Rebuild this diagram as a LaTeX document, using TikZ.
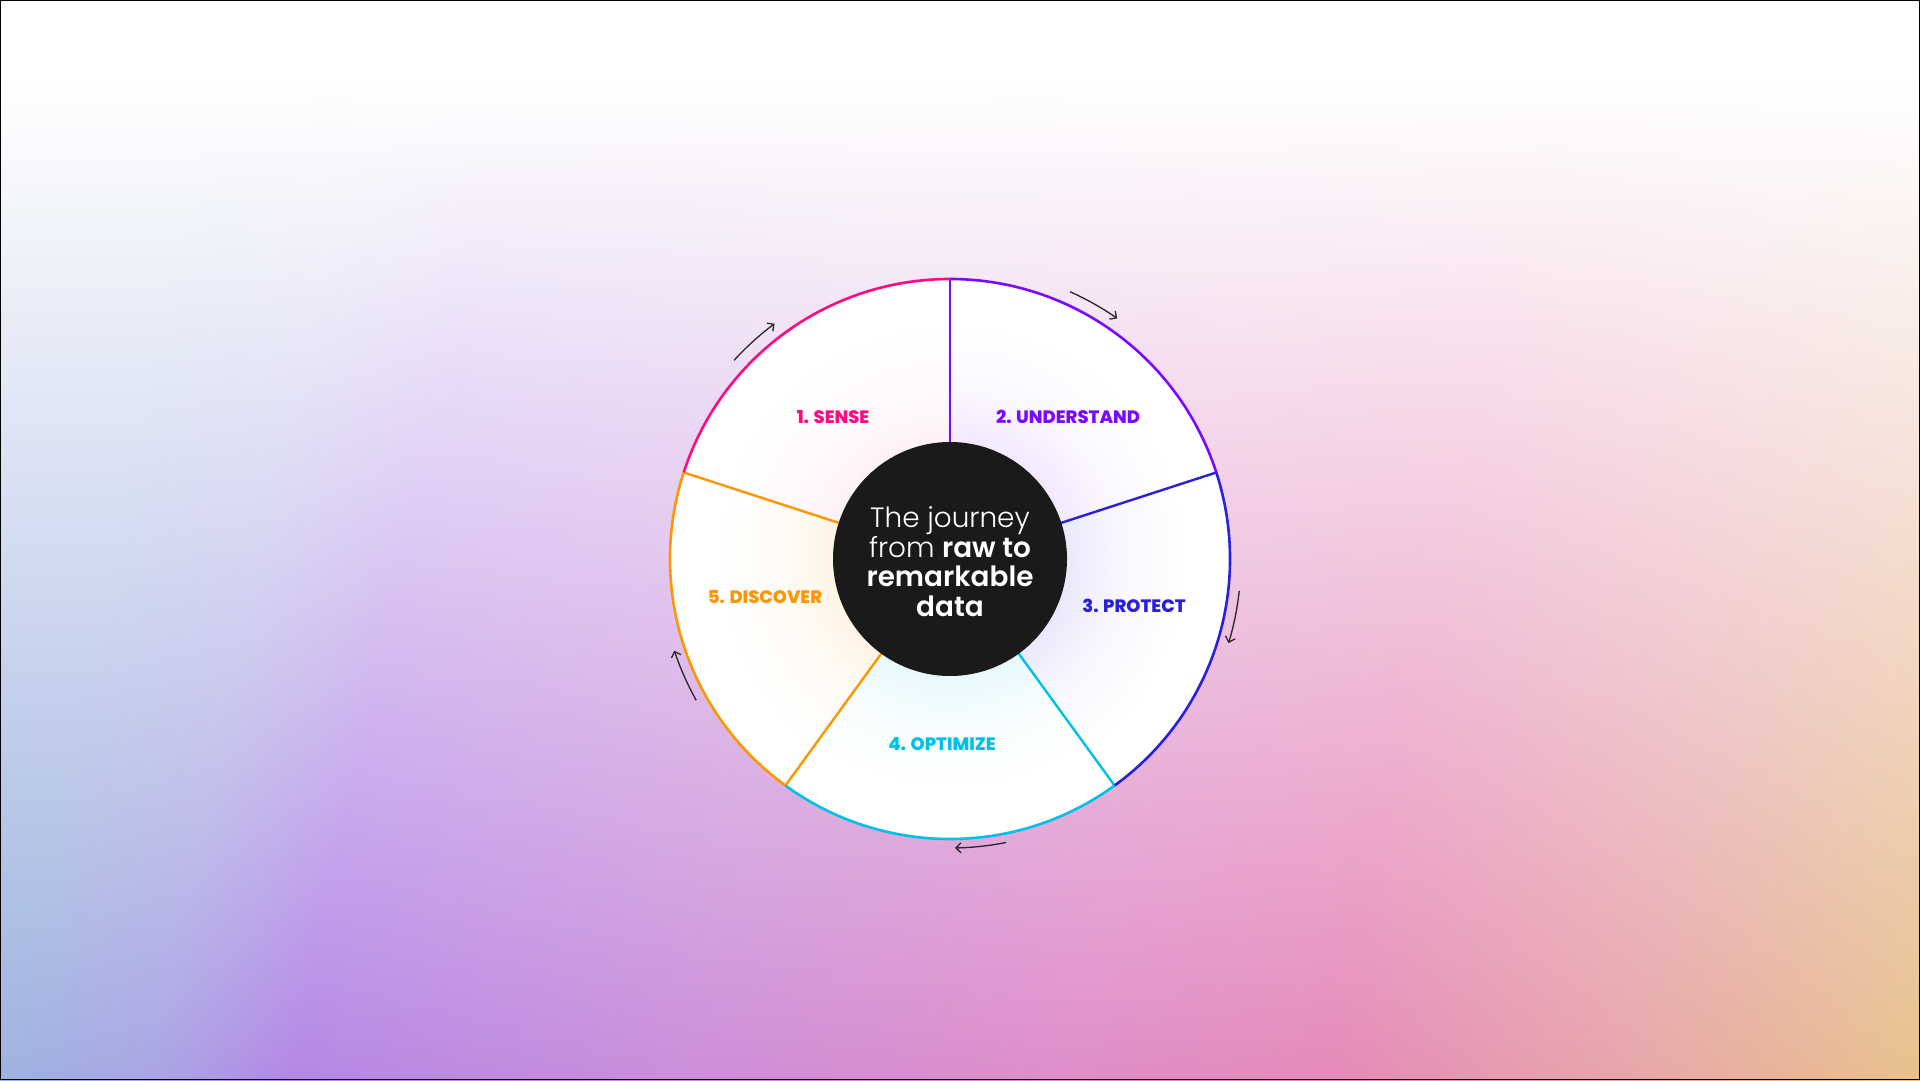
\documentclass[tikz,border=0pt]{standalone}
\usepackage{fontspec}
\setmainfont{Poppins}
\newfontfamily\popL{Poppins Light}
\newfontfamily\popSB{Poppins SemiBold}
\newfontfamily\popXB{Poppins ExtraBold}
\usetikzlibrary{arrows.meta}

\definecolor{csense}{HTML}{FF0A80}
\definecolor{cund}{HTML}{7A0AFF}
\definecolor{cprot}{HTML}{2B20DA}
\definecolor{copt}{HTML}{00C0E8}
\definecolor{cdisc}{HTML}{FF9500}
\definecolor{coreblack}{HTML}{1A1A1A}

\definecolor{bg0}{HTML}{9FB3E0}
\definecolor{bg1}{HTML}{AAA6E4}
\definecolor{bg2}{HTML}{B488E6}
\definecolor{bg3}{HTML}{CC8ED9}
\definecolor{bg4}{HTML}{DF8EC9}
\definecolor{bg5}{HTML}{E68AB9}
\definecolor{bg6}{HTML}{E7A6AA}
\definecolor{bg7}{HTML}{E8C28C}

\pgfdeclarehorizontalshading{bggrad}{1500bp}{color(0bp)=(bg0); color(273bp)=(bg0); color(420bp)=(bg1); color(557bp)=(bg2); color(938bp)=(bg3); color(1310bp)=(bg4); color(1574bp)=(bg5); color(1857bp)=(bg6); color(2151bp)=(bg7); color(2200bp)=(bg7)}

% soft glows around the core, one per sector
\colorlet{gA}{csense!6!white}\colorlet{gAb}{csense!2.5!white}
\colorlet{gB}{cund!9!white}\colorlet{gBb}{cund!3.5!white}
\colorlet{gC}{cprot!10!white}\colorlet{gCb}{cprot!4!white}
\colorlet{gD}{copt!9!white}\colorlet{gDb}{copt!3.5!white}
\colorlet{gE}{cdisc!10!white}\colorlet{gEb}{cdisc!4!white}
\pgfdeclareradialshading{glowA}{\pgfpoint{0bp}{0bp}}{color(0bp)=(gA); color(117bp)=(gA); color(165bp)=(gAb); color(235bp)=(white); color(240bp)=(white)}
\pgfdeclareradialshading{glowB}{\pgfpoint{0bp}{0bp}}{color(0bp)=(gB); color(117bp)=(gB); color(165bp)=(gBb); color(235bp)=(white); color(240bp)=(white)}
\pgfdeclareradialshading{glowC}{\pgfpoint{0bp}{0bp}}{color(0bp)=(gC); color(117bp)=(gC); color(165bp)=(gCb); color(235bp)=(white); color(240bp)=(white)}
\pgfdeclareradialshading{glowD}{\pgfpoint{0bp}{0bp}}{color(0bp)=(gD); color(117bp)=(gD); color(165bp)=(gDb); color(235bp)=(white); color(240bp)=(white)}
\pgfdeclareradialshading{glowE}{\pgfpoint{0bp}{0bp}}{color(0bp)=(gE); color(117bp)=(gE); color(165bp)=(gEb); color(235bp)=(white); color(240bp)=(white)}

\tikzset{
  rim/.style={line width=2.6bp},
  spoke/.style={line width=2.4bp},
  cyc/.style={line width=1.3bp, draw=black!85, -{Straight Barb[length=5bp,width=10bp]}},
  lbl/.style={font=\popXB\fontsize{18}{20}\selectfont, inner sep=0pt},
  coretxt/.style={text=white, align=center, font=\fontsize{28}{29.7}\selectfont, inner sep=0pt}
}

\begin{document}
\begin{tikzpicture}[x=1bp, y=1bp]
\useasboundingbox (0,0) rectangle (1920,1080);
% background: tilted colour band, whitened towards the top in disjoint bands
\begin{scope}
  \clip (0,0) rectangle (1920,1080);
  \node[inner sep=0pt, outer sep=0pt, rotate=-12] (bg) at (960,540) {\pgfuseshading{bggrad}};
  \fill[white] (0,1000) rectangle (1920,1081);
  \foreach \j in {1,...,200} {
    \pgfmathsetmacro{\aj}{1-(5*\j-2.5)/1000}
    \fill[white, fill opacity=\aj] (0,1000-5*\j) rectangle (1920,1005-5*\j);
  }
\end{scope}
\draw[line width=1.5bp] (0.75,0.75) rectangle (1919.25,1079.25);

\coordinate (C) at (950,521);

% sectors
\foreach \a/\g in {90/glowA, 18/glowB, -54/glowC, -126/glowD, 162/glowE} {
  \begin{scope}
    \clip (C) -- ++(\a:280) arc[start angle=\a, end angle=\a+72, radius=280] -- cycle;
    \fill[white] (C) circle[radius=282];
    \node[inner sep=0pt, outer sep=0pt] at (C) {\pgfuseshading{\g}};
  \end{scope}
}

% spokes
\draw[spoke, cund]  (C) -- ++(90:280) coordinate (s1);
\draw[spoke, cprot] (C) -- ++(18:280) coordinate (s2);
\draw[spoke, copt]  (C) -- ++(-54:280) coordinate (s3);
\draw[spoke, cdisc] (C) -- ++(-126:280) coordinate (s4);
\draw[spoke, cdisc] (C) -- ++(162:280) coordinate (s5);

% rim arcs
\draw[rim, csense] (s1) arc[start angle=90, end angle=162, radius=280];
\draw[rim, cund]   (s2) arc[start angle=18, end angle=90, radius=280];
\draw[rim, cprot]  (s3) arc[start angle=-54, end angle=18, radius=280];
\draw[rim, copt]   (s4) arc[start angle=-126, end angle=-54, radius=280];
\draw[rim, cdisc]  (s5) arc[start angle=162, end angle=234, radius=280];

% core
\node[circle, fill=coreblack, minimum size=234bp, inner sep=0pt] (core) at (C) {};
\node[coretxt] (coretext) at (950,518.5) {{\popL The journey}\\{\popL from} {\popSB raw to}\\{\popSB remarkable}\\{\popSB data}};

% labels
\node[lbl, text=csense] (l1) at (833,663) {1. SENSE};
\node[lbl, text=cund]   (l2) at (1068,663) {2. UNDERSTAND};
\node[lbl, text=cprot]  (l3) at (1134,474) {3. PROTECT};
\node[lbl, text=copt]   (l4) at (942,336) {4. OPTIMIZE};
\node[lbl, text=cdisc]  (l5) at (765,483) {5. DISCOVER};

% cycle arrows
\path (C) ++(137.4:293.5) coordinate (a1);
\path (C) ++(65.8:293) coordinate (a2);
\path (C) ++(-6.3:291) coordinate (a3);
\path (C) ++(-78.8:289) coordinate (a4);
\path (C) ++(209.1:290.5) coordinate (a5);
\draw[cyc] (a1) arc[start angle=137.4, end angle=126.7, radius=293.5];
\draw[cyc] (a2) arc[start angle=65.8, end angle=55.2, radius=293];
\draw[cyc] (a3) arc[start angle=-6.3, end angle=-16.8, radius=291];
\draw[cyc] (a4) arc[start angle=-78.8, end angle=-89, radius=289];
\draw[cyc] (a5) arc[start angle=209.1, end angle=198.4, radius=290.5];
\end{tikzpicture}
\end{document}
